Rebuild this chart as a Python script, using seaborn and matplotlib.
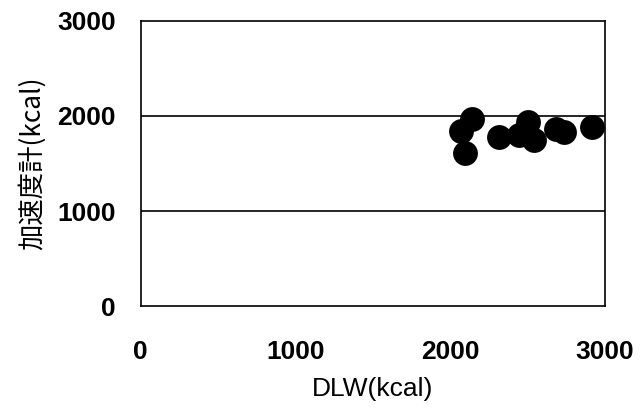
import matplotlib
matplotlib.use("Agg")
import matplotlib.pyplot as plt
import seaborn as sns
import pandas as pd

dlw = [2070, 2140, 2095, 2315, 2445, 2505, 2540, 2685, 2735, 2920]
acc = [1845, 1970, 1605, 1780, 1800, 1935, 1750, 1865, 1835, 1885]
ticks = [0, 1000, 2000, 3000]

sns.set_theme(style="white")
plt.rcParams['font.family'] = ['Liberation Sans', 'Noto Sans CJK JP', 'DejaVu Sans']
plt.rcParams['text.color'] = 'black'
plt.rcParams['axes.labelcolor'] = 'black'
plt.rcParams['xtick.color'] = 'black'
plt.rcParams['ytick.color'] = 'black'

df = pd.DataFrame({"DLW": dlw, "ACC": acc})
fig = plt.figure(figsize=(6.4, 4.16), dpi=100)
ax = fig.add_axes([0.22, 0.264, 0.725, 0.686])
for yv in [1000, 2000]:
    ax.axhline(yv, color="black", lw=1.2, zorder=1)
sns.scatterplot(data=df, x="DLW", y="ACC", ax=ax, s=320, color="black",
                edgecolor="black", linewidth=0, zorder=3)
ax.set_xlim(0, 3000)
ax.set_ylim(0, 3000)
ax.set_xticks(ticks)
ax.set_yticks(ticks)
ax.set_xticklabels([str(t) for t in ticks], fontsize=19, fontweight="bold")
ax.set_yticklabels([str(t) for t in ticks], fontsize=19, fontweight="bold")
ax.tick_params(axis="x", direction="in", length=4, pad=24)
ax.tick_params(axis="y", length=0, pad=18)
for sp in ax.spines.values():
    sp.set_color("black")
    sp.set_linewidth(1.2)
ax.set_xlabel("DLW(kcal)", fontsize=19, labelpad=10)
ax.set_ylabel("加速度計(kcal)", fontsize=19, family=['Noto Sans CJK JP'], labelpad=8)
fig.savefig("out.png", dpi=100)
